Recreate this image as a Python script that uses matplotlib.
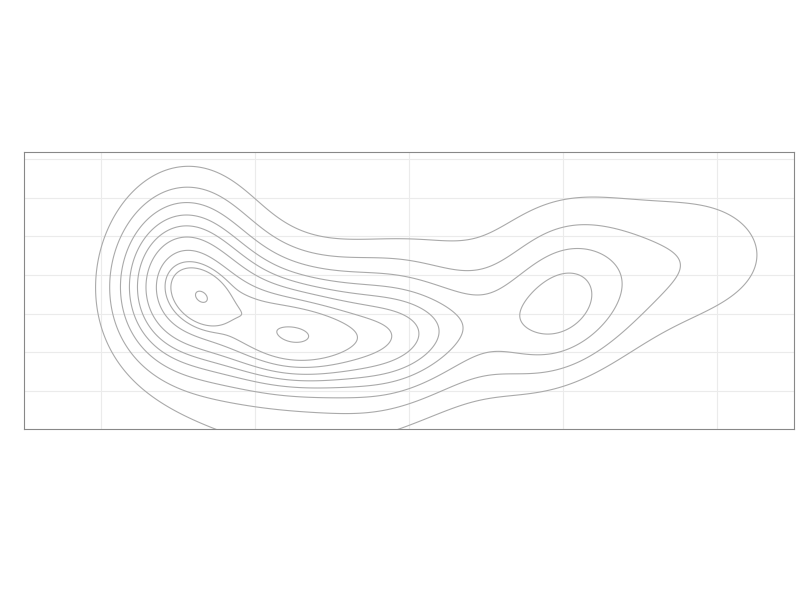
import numpy as np
import matplotlib
matplotlib.use("Agg")
import matplotlib.pyplot as plt

# bumps that make up the density surface
# (centre x, centre y, spread x, spread y, correlation, height)
bump_x = [1.652, 1.310, 1.690, 2.279, 3.000, 3.094, 3.895, 4.924, 3.724, 1.88]
bump_y = [2.438, 2.867, 2.308, 1.215, 1.612, 4.563, 2.386, 4.463, -0.778, 2.08]
bump_sx = [0.073, 0.608, 1.031, 0.330, 0.450, 0.779, 0.437, 1.092, 1.473, 0.10]
bump_sy = [0.275, 2.679, 6.791, 1.040, 1.790, 1.769, 2.425, 3.244, 2.839, 0.26]
bump_rho = [-0.33, 0.18, -0.14, 0.06, 0.15, 0.73, 0.06, 0.00, 0.73, -0.5]
bump_h = [0.540, 0.126, 0.402, 0.079, 0.205, 0.075, 0.156, 0.397, 0.180, 0.007]

# the ten contour levels
levels = [0.422, 0.450, 0.469, 0.483, 0.494, 0.504, 0.514, 0.523, 0.537, 1.000]

x_ticks = [1, 2, 3, 4, 5]
y_ticks = [0, 1, 2, 3, 4, 5, 6]


def surface(X, Y):
    Z = np.zeros_like(X)
    for mx, my, sx, sy, r, h in zip(bump_x, bump_y, bump_sx, bump_sy, bump_rho, bump_h):
        u = (X - mx) / sx
        v = (Y - my) / sy
        Z += h * np.exp(-(u * u - 2 * r * u * v + v * v) / (1 - r * r) / 2)
    return Z


xs = np.linspace(0.4, 5.6, 600)
ys = np.linspace(-3, 7, 600)
X, Y = np.meshgrid(xs, ys)
Z = surface(X, Y)

fig = plt.figure(figsize=(8, 6), dpi=100)
ax = fig.add_axes([24 / 800, 1 - 429 / 600, 770 / 800, 277 / 600])
ax.contour(X, Y, Z, levels=levels, colors="#aaaaaa", linewidths=0.8)

ax.set_xlim(0.5, 5.5)
ax.set_ylim(-0.98, 6.18)
ax.set_xticks(x_ticks)
ax.set_yticks(y_ticks)
ax.tick_params(length=0, labelbottom=False, labelleft=False)
ax.grid(True, color="#ebebeb", linewidth=0.8)
ax.set_axisbelow(True)
for s in ax.spines.values():
    s.set_color("#888888")
    s.set_linewidth(0.8)

fig.savefig("out.png", dpi=100)
